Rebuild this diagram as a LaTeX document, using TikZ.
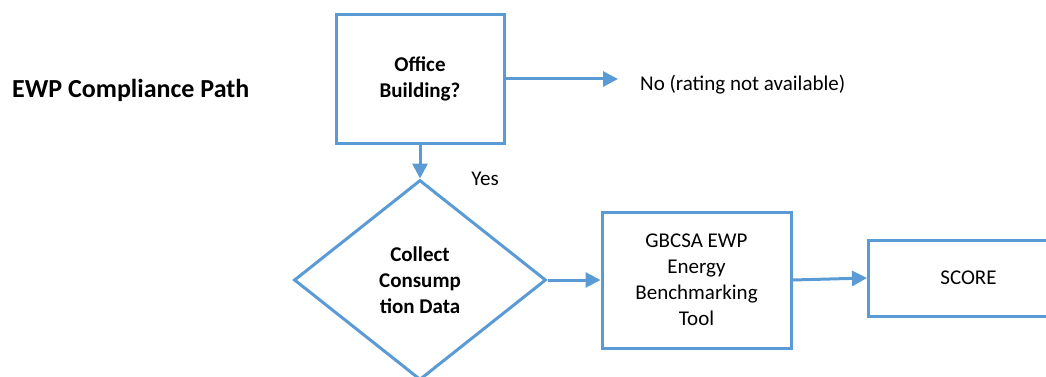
\documentclass[tikz,border=0pt]{standalone}
\usepackage{fontspec}
\setmainfont{Carlito}
\usetikzlibrary{arrows.meta,shapes.geometric}
\definecolor{ewpblue}{RGB}{91,155,213}
\begin{document}
\begin{tikzpicture}[x=1pt,y=-1pt,
  box/.style={draw=ewpblue,line width=3pt,inner sep=0pt,align=center,font=\fontsize{21}{26}\selectfont},
  lbl/.style={inner sep=0pt,font=\fontsize{21}{26}\selectfont},
  conn/.style={draw=ewpblue,line width=3pt,-{Triangle[length=15pt,width=15pt]}}]
\useasboundingbox (0,0) rectangle (1046,377);
\node[lbl,font=\fontsize{26}{30}\selectfont\bfseries,anchor=west] (title) at (12,90) {EWP Compliance Path};
\node[box,minimum width=168pt,minimum height=128pt,font=\fontsize{21}{26}\selectfont\bfseries] (office) at (420,79) {Office\\Building?};
\coordinate (noend) at (618,79);
\node[lbl,anchor=west] (no) at (640,85) {No (rating not available)};
\node[box,diamond,minimum width=252pt,minimum height=200pt,font=\fontsize{21}{26}\selectfont\bfseries] (collect) at (420,280) {Collect\\Consump\\tion Data};
\node[lbl] (yes) at (485,179) {Yes};
\node[box,minimum width=189pt,minimum height=136pt] (tool) at (696.5,280) {GBCSA EWP\\Energy\\Benchmarking\\Tool};
\node[box,anchor=west,minimum width=200pt,minimum height=76pt,text width=134pt] (score) at (867,278) {SCORE};
\draw[conn] (office.east) -- (noend);
\draw[conn] (office.south) -- (collect.north);
\draw[conn] (collect.east) -- (tool.west);
\draw[conn] (tool.east) -- (score.west);
\end{tikzpicture}
\end{document}
